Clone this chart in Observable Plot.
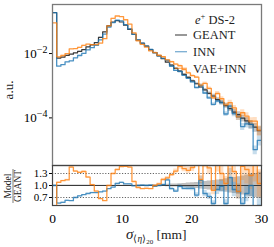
<!DOCTYPE html>
<html><head><meta charset="utf-8">
<script src="https://cdn.jsdelivr.net/npm/d3@7"></script>
<script src="https://cdn.jsdelivr.net/npm/@observablehq/plot@0.6"></script>
<style>
html,body{margin:0;padding:0;background:#fff;}
#wrap{position:relative;width:274px;height:247px;overflow:hidden;font-family:"Liberation Serif",serif;}
#wrap svg{position:absolute;left:0;overflow:visible;}
</style></head><body><div id="wrap"></div>
<script>
// ---- data (50 bins of 0.6 mm from 0 to 30 mm) ----
const binWidth = 0.6;
const nBins = 50;
const geant = [0.186, 0.00724, 0.00776, 0.00871, 0.00955, 0.0105, 0.01175, 0.0132, 0.0162, 0.0186,
  0.0219, 0.0316, 0.0468, 0.0724, 0.0955, 0.1047, 0.0955, 0.0759, 0.0562, 0.0398,
  0.0263, 0.0209, 0.0170, 0.0132, 0.0107, 0.00851, 0.00692, 0.00537, 0.00437, 0.00347,
  0.00282, 0.00224, 0.00182, 0.00141, 0.00115, 0.000912, 0.000741, 0.000575, 0.000479, 0.000372,
  0.000302, 0.000240, 0.000195, 0.000151, 0.000126, 0.0000977, 0.0000813, 0.0000631, 0.0000513, 0.0000398];
const innRatio = [1.00, 0.56, 0.58, 0.63, 0.62, 0.70, 0.74, 0.77, 0.80, 0.82,
  0.82, 0.84, 0.86, 0.92, 0.96, 1.05, 1.08, 1.04, 1.04, 0.99,
  1.00, 1.01, 1.00, 1.01, 0.98, 1.00, 1.02, 1.14, 0.92, 0.86,
  0.98, 0.93, 0.93, 0.93, 0.76, 1.13, 0.80, 0.73, 0.55, 0.90,
  0.98, 0.55, 1.20, 0.90, 0.85, 0.55, 0.80, 1.00, 0.20, 0.50];
const vaeRatio = [0.48, 1.08, 1.12, 1.14, 1.46, 1.36, 1.33, 1.35, 1.21, 1.02,
  0.86, 0.67, 0.62, 1.00, 1.30, 1.40, 1.47, 1.48, 1.46, 1.10,
  0.95, 0.92, 0.93, 0.92, 1.00, 1.04, 1.15, 1.19, 1.27, 1.36,
  1.48, 1.42, 1.38, 1.45, 1.60, 1.15, 1.60, 1.44, 0.88, 1.55,
  1.30, 1.05, 1.52, 1.35, 0.85, 1.48, 1.40, 1.25, 1.55, 1.05];
const relErr = [0.01, 0.012, 0.012, 0.012, 0.012, 0.011, 0.011, 0.01, 0.01, 0.01,
  0.009, 0.008, 0.007, 0.006, 0.005, 0.005, 0.005, 0.006, 0.007, 0.008,
  0.01, 0.011, 0.013, 0.015, 0.018, 0.021, 0.025, 0.03, 0.035, 0.04,
  0.046, 0.053, 0.06, 0.068, 0.077, 0.087, 0.098, 0.11, 0.123, 0.137,
  0.152, 0.168, 0.185, 0.2, 0.22, 0.24, 0.26, 0.28, 0.3, 0.33];
const xTicks = [0, 10, 20, 30];
const yTicksMain = [1e-2, 1e-4];
const yTicksRatio = [0.7, 1.0, 1.3];
const series = ["GEANT", "INN", "VAE+INN"];
const colors = {"GEANT": "#3a3a3a", "INN": "#1f77b4", "VAE+INN": "#ff7f0e"};

// ---- derived tables ----
const edges = d3.range(nBins + 1).map(i => +(i * binWidth).toFixed(3));
function steps(vals, err) {
  const pts = vals.map((v, i) => ({x: edges[i], y: v, lo: v * (1 - err[i]), hi: v * (1 + err[i])}));
  const last = pts[pts.length - 1];
  pts.push({...last, x: edges[nBins]});
  return pts;
}
const innVals = geant.map((g, i) => g * innRatio[i]);
const vaeVals = geant.map((g, i) => g * vaeRatio[i]);
const ones = geant.map(() => 1);

const sG = steps(geant, relErr), sI = steps(innVals, relErr), sV = steps(vaeVals, relErr);
const rG = steps(ones, relErr), rI = steps(innRatio, relErr), rV = steps(vaeRatio, relErr);

const FONT = "Liberation Serif, serif";
const wrap = document.getElementById("wrap");
const ns = "http://www.w3.org/2000/svg";

// ---- main panel ----
const main = Plot.plot({
  width: 274, height: 166,
  marginLeft: 52, marginRight: 13, marginTop: 4, marginBottom: 1,
  style: {fontFamily: FONT, fontSize: "13px", background: "transparent", overflow: "visible"},
  x: {domain: [0, 30]},
  y: {type: "log", domain: [Math.pow(10, -5.48), Math.pow(10, -0.476)]},
  marks: [
    Plot.areaY(sG, {x: "x", y1: "lo", y2: "hi", curve: "step-after", fill: "#7f7f7f", fillOpacity: 0.45, clip: true}),
    Plot.areaY(sI, {x: "x", y1: "lo", y2: "hi", curve: "step-after", fill: colors.INN, fillOpacity: 0.25, clip: true}),
    Plot.areaY(sV, {x: "x", y1: "lo", y2: "hi", curve: "step-after", fill: colors["VAE+INN"], fillOpacity: 0.25, clip: true}),
    Plot.line(sG, {x: "x", y: "y", curve: "step-after", stroke: colors.GEANT, strokeWidth: 1.2, clip: true}),
    Plot.line(sI, {x: "x", y: "y", curve: "step-after", stroke: colors.INN, strokeOpacity: 0.8, strokeWidth: 1.3, clip: true}),
    Plot.line(sV, {x: "x", y: "y", curve: "step-after", stroke: colors["VAE+INN"], strokeOpacity: 0.8, strokeWidth: 1.3, clip: true}),
    Plot.axisX({ticks: [], label: null}),
    Plot.axisY({ticks: yTicksMain, tickSize: 3, tickPadding: 2, tickFormat: d => "10^" + Math.round(Math.log10(d)), label: null, fontSize: 13}),
    Plot.frame({stroke: "#7a7a7a", strokeWidth: 1.3})
  ]
});
main.style.top = "0px";
wrap.appendChild(main);

// superscript exponents on log tick labels
main.querySelectorAll('g[aria-label="y-axis tick label"] text').forEach(t => {
  const m = t.textContent.match(/^10\^(-?\d+)$/);
  if (!m) return;
  t.textContent = "10";
  const ts = document.createElementNS(ns, "tspan");
  ts.setAttribute("dy", "-0.5em");
  ts.setAttribute("font-size", "10px");
  ts.textContent = m[1].replace("-", "\u2212");
  t.appendChild(ts);
});

const ms = d3.select(main);
ms.append("text").attr("transform", "translate(13,90) rotate(-90)").attr("text-anchor", "middle")
  .attr("font-family", FONT).attr("font-size", 13).attr("fill", "#222").text("a.u.");

// legend
const lg = ms.append("g").attr("font-family", FONT).attr("font-size", 12.5).attr("fill", "#222").attr("text-anchor", "start");
const title = lg.append("text").attr("x", 195).attr("y", 24);
title.append("tspan").attr("font-style", "italic").text("e");
title.append("tspan").attr("dy", -5).attr("font-size", 8.5).text("+");
title.append("tspan").attr("dy", 5).text(" DS-2");
const legY = [35, 51.7, 68.3];
series.forEach((s, i) => {
  lg.append("line").attr("x1", 175).attr("x2", 187).attr("y1", legY[i]).attr("y2", legY[i])
    .attr("stroke", colors[s]).attr("stroke-width", 1.3).attr("stroke-opacity", s === "GEANT" ? 0.8 : 0.6);
  lg.append("text").attr("x", 193).attr("y", legY[i] + 4.3).text(s);
});

// ---- ratio panel ----
const ratio = Plot.plot({
  width: 274, height: 87,
  marginLeft: 52, marginRight: 13, marginTop: 5, marginBottom: 42,
  style: {fontFamily: FONT, fontSize: "11px", background: "transparent", overflow: "visible"},
  x: {domain: [0, 30]},
  y: {domain: [0.5, 1.5]},
  marks: [
    Plot.areaY(rG, {x: "x", y1: "lo", y2: "hi", curve: "step-after", fill: "#7f7f7f", fillOpacity: 0.5, clip: true}),
    Plot.areaY(rI, {x: "x", y1: "lo", y2: "hi", curve: "step-after", fill: colors.INN, fillOpacity: 0.25, clip: true}),
    Plot.areaY(rV, {x: "x", y1: "lo", y2: "hi", curve: "step-after", fill: colors["VAE+INN"], fillOpacity: 0.25, clip: true}),
    Plot.ruleY([0.7, 1.3], {stroke: "#555", strokeWidth: 0.9, strokeDasharray: "1.2,1.6"}),
    Plot.line(rG, {x: "x", y: "y", curve: "step-after", stroke: colors.GEANT, strokeWidth: 1.2, clip: true}),
    Plot.line(rI, {x: "x", y: "y", curve: "step-after", stroke: colors.INN, strokeOpacity: 0.8, strokeWidth: 1.3, clip: true}),
    Plot.line(rV, {x: "x", y: "y", curve: "step-after", stroke: colors["VAE+INN"], strokeOpacity: 0.8, strokeWidth: 1.3, clip: true}),
    Plot.axisX({ticks: xTicks, tickSize: 0, tickPadding: 8, tickFormat: d3.format("d"), label: null, fontSize: 13.5}),
    Plot.axisY({ticks: yTicksRatio, tickSize: 3, tickPadding: 2, tickFormat: d3.format(".1f"), label: null, fontSize: 11}),
    Plot.frame({stroke: "#444", strokeWidth: 1.2})
  ]
});
ratio.style.top = "160px";
wrap.appendChild(ratio);

const rs = d3.select(ratio);
// fraction y-label
const fr = rs.append("g").attr("transform", "translate(0,26) rotate(-90)")
  .attr("font-family", FONT).attr("font-size", 9.5).attr("fill", "#222").attr("text-anchor", "middle");
fr.append("text").attr("x", 0).attr("y", 11).text("Model");
fr.append("line").attr("x1", -17).attr("x2", 17).attr("y1", 13).attr("y2", 13).attr("stroke", "#222").attr("stroke-width", 0.6);
fr.append("text").attr("x", 0).attr("y", 20.5).text("GEANT");

// x label
const xl = rs.append("text").attr("x", 126).attr("y", 79).attr("text-anchor", "start")
  .attr("font-family", FONT).attr("font-size", 13.5).attr("fill", "#222");
xl.append("tspan").attr("font-style", "italic").attr("font-size", 15).text("σ");
xl.append("tspan").attr("font-size", 9.5).attr("dy", 3).text("⟨");
xl.append("tspan").attr("font-size", 9.5).attr("font-style", "italic").text("η");
xl.append("tspan").attr("font-size", 9.5).text("⟩");
xl.append("tspan").attr("font-size", 7).attr("dy", 2).text("20");
xl.append("tspan").attr("dy", -5).text(" [mm]");
</script></body></html>
